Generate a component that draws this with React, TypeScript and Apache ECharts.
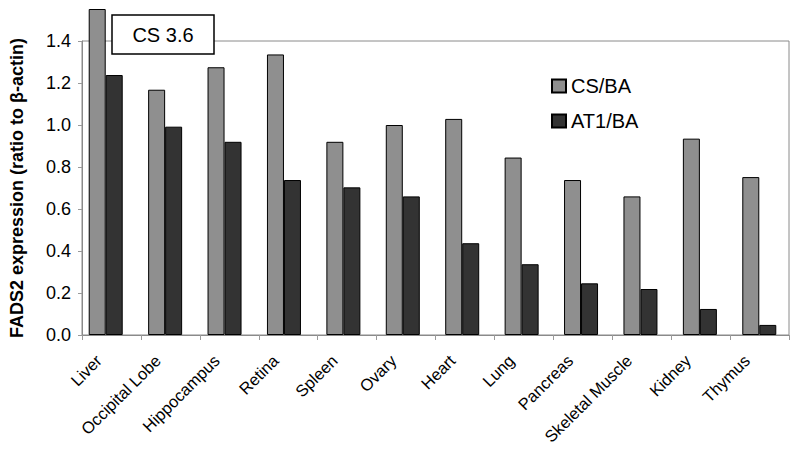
import React, { useEffect, useRef } from "react";
import * as echarts from "echarts";

const categories = [
  "Liver", "Occipital Lobe", "Hippocampus", "Retina", "Spleen", "Ovary",
  "Heart", "Lung", "Pancreas", "Skeletal Muscle", "Kidney", "Thymus",
];
const csBA = [3.6, 1.168, 1.275, 1.336, 0.92, 1.0, 1.029, 0.845, 0.738, 0.66, 0.935, 0.752];
const at1BA = [1.238, 0.992, 0.92, 0.738, 0.703, 0.66, 0.437, 0.337, 0.246, 0.219, 0.124, 0.048];
const yTicks = { min: 0, max: 1.4, interval: 0.2 };
const yTitle = "FADS2 expression (ratio to β-actin)";
const brokenLabel = "CS 3.6";

const FONT = "'Liberation Sans', Arial, sans-serif";

export default function App() {
  const ref = useRef<HTMLDivElement>(null);
  useEffect(() => {
    if (!ref.current) return;
    const chart = echarts.init(ref.current, null, { renderer: "svg" });
    const gridCommon = { left: 76, right: 11, bottom: 116 };
    chart.setOption({
      animation: false,
      backgroundColor: "#ffffff",
      textStyle: { fontFamily: FONT },
      grid: [
        { ...gridCommon, top: 41, show: true, borderColor: "#8a8a8a", borderWidth: 1, backgroundColor: "transparent", z: 0 },
        { ...gridCommon, top: 9.5 },
      ],
      legend: {
        orient: "vertical",
        left: 546,
        top: 71,
        itemWidth: 14,
        itemHeight: 13,
        itemGap: 15,
        icon: "rect",
        textStyle: { fontSize: 20, color: "#000", fontFamily: FONT },
        data: ["CS/BA", "AT1/BA"],
      },
      xAxis: [
        {
          gridIndex: 0,
          type: "category",
          data: categories,
          axisLine: { lineStyle: { color: "#8a8a8a", width: 1 } },
          axisTick: { show: true, length: 5, lineStyle: { color: "#9a9a9a" } },
          axisLabel: {
            rotate: 45,
            fontSize: 16.5,
            color: "#000",
            margin: 10,
            interval: 0,
            padding: [0, 18, 0, 0],
            fontFamily: FONT,
          },
        },
        {
          gridIndex: 1,
          type: "category",
          data: categories,
          show: false,
        },
      ],
      yAxis: [
        {
          gridIndex: 0,
          type: "value",
          min: yTicks.min,
          max: yTicks.max,
          interval: yTicks.interval,
          axisLine: { show: true, lineStyle: { color: "#8a8a8a", width: 1 } },
          axisTick: { show: true, length: 4, lineStyle: { color: "#9a9a9a" } },
          splitLine: { show: false },
          axisLabel: {
            fontSize: 18,
            color: "#000",
            margin: 11,
            fontFamily: FONT,
            formatter: (v: number) => v.toFixed(1),
          },
          name: yTitle,
          nameLocation: "middle",
          nameGap: 56,
          nameTextStyle: { fontSize: 18, fontWeight: "bold", color: "#000", fontFamily: FONT },
        },
        {
          gridIndex: 1,
          type: "value",
          min: 0,
          max: 1.55,
          show: false,
          splitLine: { show: false },
        },
      ],
      series: [
        {
          name: "CS/BA",
          type: "bar",
          xAxisIndex: 1,
          yAxisIndex: 1,
          data: csBA,
          barWidth: 17,
          barGap: "0%",
          itemStyle: { color: "#8f8f8f", borderColor: "#000", borderWidth: 1 },
        },
        {
          name: "AT1/BA",
          type: "bar",
          xAxisIndex: 1,
          yAxisIndex: 1,
          data: at1BA,
          barWidth: 17,
          barGap: "0%",
          itemStyle: { color: "#333333", borderColor: "#000", borderWidth: 1 },
        },
      ],
      graphic: [
        {
          type: "group",
          z: 100,
          children: [
            {
              type: "rect",
              shape: { x: 112, y: 15, width: 102, height: 39 },
              style: { fill: "#fff", stroke: "#000", lineWidth: 1.5 },
            },
            {
              type: "text",
              x: 163,
              y: 35,
              style: {
                text: brokenLabel,
                fontSize: 20,
                fontFamily: FONT,
                fill: "#000",
                align: "center",
                verticalAlign: "middle",
              },
            },
          ],
        },
      ],
    });
    return () => chart.dispose();
  }, []);
  return (
    <div
      ref={ref}
      style={{ position: "fixed", left: 0, top: 0, width: 800, height: 451 }}
    />
  );
}
